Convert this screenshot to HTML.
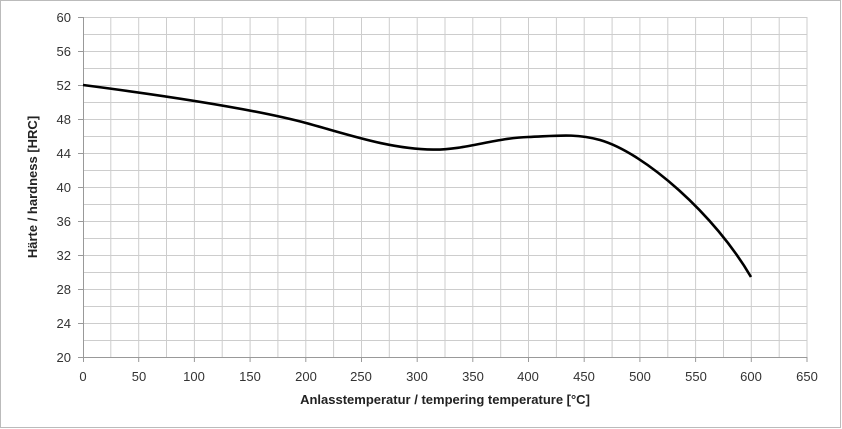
<!DOCTYPE html>
<html><head><style>body{margin:0;background:#fff}svg{display:block}</style></head><body>
<svg width="842" height="429" xmlns="http://www.w3.org/2000/svg" font-family="Liberation Sans, sans-serif">
<rect x="0.5" y="0.5" width="840" height="427" fill="#fff" stroke="#bbb"/>
<path stroke="#cdcdcd" stroke-width="1" fill="none" d="M110.8,17V357M138.7,17V357M166.5,17V357M194.4,17V357M222.2,17V357M250.1,17V357M277.9,17V357M305.8,17V357M333.6,17V357M361.5,17V357M389.3,17V357M417.2,17V357M445,17V357M472.8,17V357M500.7,17V357M528.5,17V357M556.4,17V357M584.2,17V357M612.1,17V357M639.9,17V357M667.8,17V357M695.6,17V357M723.5,17V357M751.3,17V357M779.2,17V357M807,17V357
M83,17.5H807M83,34.5H807M83,51.5H807M83,68.5H807M83,85.5H807M83,102.5H807M83,119.5H807M83,136.5H807M83,153.5H807M83,170.5H807M83,187.5H807M83,204.5H807M83,221.5H807M83,238.5H807M83,255.5H807M83,272.5H807M83,289.5H807M83,306.5H807M83,323.5H807M83,340.5H807"/>
<path stroke="#999" stroke-width="1" fill="none" d="M83.5,17V362M78,357.5H807M138.7,357V362M194.4,357V362M250.1,357V362M305.8,357V362M361.5,357V362M417.2,357V362M472.8,357V362M528.5,357V362M584.2,357V362M639.9,357V362M695.6,357V362M751.3,357V362M807,357V362M78,17.5H83M78,51.5H83M78,85.5H83M78,119.5H83M78,153.5H83M78,187.5H83M78,221.5H83M78,255.5H83M78,289.5H83M78,323.5H83"/>
<g font-size="13" fill="#333" text-anchor="end">
<text x="71" y="22">60</text><text x="71" y="56">56</text><text x="71" y="90">52</text><text x="71" y="124">48</text><text x="71" y="158">44</text><text x="71" y="192">40</text><text x="71" y="226">36</text><text x="71" y="260">32</text><text x="71" y="294">28</text><text x="71" y="328">24</text><text x="71" y="362">20</text>
</g>
<g font-size="13" fill="#333" text-anchor="middle">
<text x="83" y="381">0</text><text x="139" y="381">50</text><text x="194" y="381">100</text><text x="250" y="381">150</text><text x="306" y="381">200</text><text x="361" y="381">250</text><text x="417" y="381">300</text><text x="473" y="381">350</text><text x="528" y="381">400</text><text x="584" y="381">450</text><text x="640" y="381">500</text><text x="696" y="381">550</text><text x="751" y="381">600</text><text x="807" y="381">650</text>
</g>
<text x="445" y="404" font-size="13" font-weight="bold" text-anchor="middle" fill="#222">Anlasstemperatur / tempering temperature [°C]</text>
<text transform="translate(37,187) rotate(-90)" font-size="13" font-weight="bold" text-anchor="middle" fill="#222">Härte / hardness [HRC]</text>
<path d="M83,85 C160,95 250,108 306,123 C350,135 390,149 433,149.6 C465,150 495,138 528,137 C555,136 575,133 600,140 C645,153 715,215 751,277" fill="none" stroke="#000" stroke-width="2.6"/>
</svg>
</body></html>
